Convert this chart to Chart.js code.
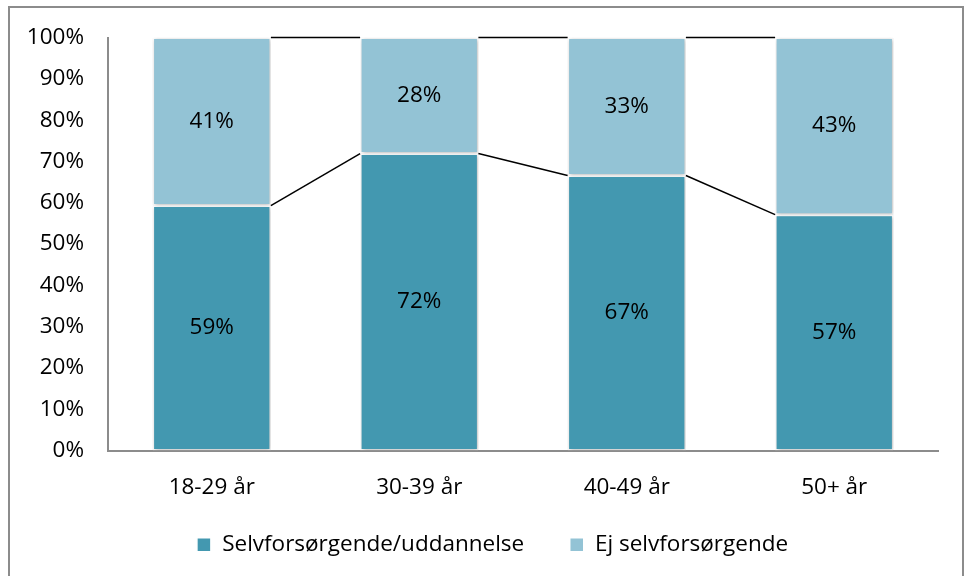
<!DOCTYPE html>
<html><head><meta charset="utf-8">
<script src="https://cdn.jsdelivr.net/npm/chart.js@4.4.1/dist/chart.umd.min.js"></script>
<style>
html,body{margin:0;padding:0;background:#fff;}
#wrap{position:absolute;left:0;top:0;width:971px;height:576px;}
#frame{position:absolute;left:8px;top:6px;width:956px;height:580px;border:2px solid #8c8c8c;box-sizing:border-box;pointer-events:none;}
</style></head>
<body>
<div id="wrap"><canvas id="c" width="971" height="576"></canvas><div id="frame"></div></div>
<script>
const categories = ["18-29 år","30-39 år","40-49 år","50+ år"];
const selvforsorgende = [59.3, 71.9, 66.6, 57.1];
const ejSelvforsorgende = [40.7, 28.1, 33.4, 42.9];
const seriesNames = ["Selvforsørgende/uddannelse","Ej selvforsørgende"];
const tickValues = [0,10,20,30,40,50,60,70,80,90,100];

const FONT = "'Open Sans', sans-serif";
const FS = 22.5;

const seriesLines = {
  id:'seriesLines',
  afterDatasetsDraw(chart){
    const ctx = chart.ctx;
    ctx.save();
    ctx.strokeStyle = '#000';
    ctx.lineWidth = 1.5;
    chart.data.datasets.forEach((ds,i)=>{
      const meta = chart.getDatasetMeta(i);
      for(let j=0;j<meta.data.length-1;j++){
        const a = meta.data[j], b = meta.data[j+1];
        ctx.beginPath();
        ctx.moveTo(a.x + a.width/2, a.y);
        ctx.lineTo(b.x - b.width/2, b.y);
        ctx.stroke();
      }
    });
    ctx.restore();
  }
};
const shadow = {
  id:'shadow',
  beforeDatasetsDraw(chart){
    const ctx=chart.ctx; ctx.save();
    ctx.shadowColor='rgba(0,0,0,0.28)'; ctx.shadowBlur=4; ctx.shadowOffsetX=1; ctx.shadowOffsetY=1;
  },
  afterDatasetsDraw(chart){ chart.ctx.restore(); }
};
const labels = {
  id:'valueLabels',
  afterDatasetsDraw(chart){
    const ctx=chart.ctx; ctx.save();
    ctx.fillStyle='#000'; ctx.font=FS+"px "+FONT; ctx.textAlign='center'; ctx.textBaseline='middle';
    chart.data.datasets.forEach((ds,i)=>{
      chart.getDatasetMeta(i).data.forEach((el,j)=>{
        const v = ds.data[j];
        ctx.fillText(Math.round(v)+'%', el.x, (el.y+el.base)/2);
      });
    });
    ctx.restore();
  }
};

new Chart(document.getElementById('c'),{
  type:'bar',
  data:{
    labels:categories,
    datasets:[
      {label:seriesNames[0],data:selvforsorgende,backgroundColor:'#4398b0',borderColor:'#ffffff',borderWidth:1.5,borderSkipped:false},
      {label:seriesNames[1],data:ejSelvforsorgende,backgroundColor:'#93c3d5',borderColor:'#ffffff',borderWidth:1.5,borderSkipped:false}
    ]
  },
  options:{
    responsive:false,animation:false,
    layout:{padding:{top:36,right:0,left:14,bottom:10}},
    datasets:{bar:{categoryPercentage:0.57,barPercentage:1}},
    scales:{
      x:{stacked:true,grid:{display:false,drawTicks:false},border:{color:'#8c8c8c',width:2},
         ticks:{color:'#000',font:{family:FONT,size:FS},padding:24},
         afterFit(s){s.height=55;}},
      y:{stacked:true,min:0,max:100,grid:{display:false,drawTicks:false},border:{color:'#8c8c8c',width:2},
         afterBuildTicks(s){s.ticks=tickValues.map(v=>({value:v}));},
         ticks:{color:'#000',font:{family:FONT,size:FS},padding:24,callback:v=>v+'%'},
         afterFit(s){s.width=94;}},
      yr:{position:'right',min:0,max:100,grid:{display:false,drawTicks:false},border:{display:false},
         ticks:{display:false},afterFit(s){s.width=33;}}
    },
    plugins:{
      legend:{position:'bottom',labels:{color:'#000',font:{family:FONT,size:FS},boxWidth:14,boxHeight:14,padding:28,
        generateLabels(chart){
          const items = Chart.defaults.plugins.legend.labels.generateLabels(chart);
          items.forEach((it,i)=>{ if(i<items.length-1) it.text = it.text + '   '; });
          return items;
        }}},
      tooltip:{enabled:false}
    }
  },
  plugins:[shadow,seriesLines,labels]
});
</script>
</body></html>
